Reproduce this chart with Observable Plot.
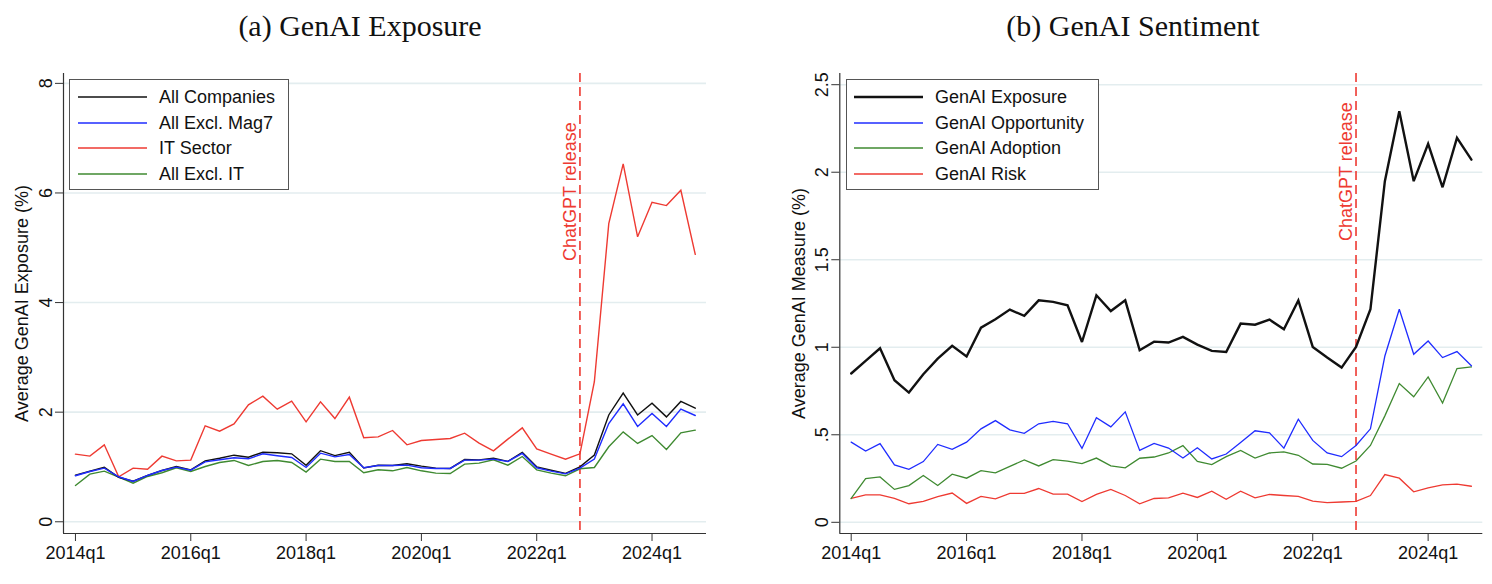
<!DOCTYPE html>
<html>
<head>
<meta charset="utf-8">
<script src="https://cdn.jsdelivr.net/npm/d3@7"></script>
<script src="https://cdn.jsdelivr.net/npm/@observablehq/plot@0.6"></script>
<style>
  html, body { margin: 0; padding: 0; background: #fff; }
  #root { position: relative; width: 1492px; height: 584px; overflow: hidden; font-family: "Liberation Sans", Arial, sans-serif; }
  .title { position: absolute; top: 9px; font-family: "Liberation Serif", "Times New Roman", serif; font-size: 30px; color: #111; white-space: nowrap; transform: translateX(-50%); }
  .panel { position: absolute; top: 50px; }
  .legend { position: absolute; border: 1.5px solid #555; background: #fff; box-sizing: border-box; }
  .legend .row { position: absolute; left: 0; height: 0; }
  .legend .row svg { position: absolute; top: -2px; }
  .legend .row span { position: absolute; top: -11px; font-size: 18px; line-height: 22px; color: #111; white-space: nowrap; }
</style>
</head>
<body>
<div id="root"></div>
<script>
// ---------- data ----------
const years = [2014, 2015, 2016, 2017, 2018, 2019, 2020, 2021, 2022, 2023, 2024];
const quarterLabels = years.flatMap(y => [1, 2, 3, 4].map(q => `${y}q${q}`)); // 2014q1 .. 2024q4
const tickIdx = [0, 8, 16, 24, 32, 40];
const tickLabels = ["2014q1", "2016q1", "2018q1", "2020q1", "2022q1", "2024q1"];
const chatgptIdx = 35; // 2022q4
const chatgptLabel = "ChatGPT release";

// Panel (a) GenAI Exposure
const allCompanies = [0.850, 0.922, 0.994, 0.812, 0.741, 0.846, 0.935, 1.008, 0.947, 1.112, 1.160, 1.215, 1.179, 1.268, 1.259, 1.240, 1.030, 1.297, 1.207, 1.268, 0.983, 1.032, 1.027, 1.059, 1.015, 0.979, 0.973, 1.135, 1.129, 1.158, 1.103, 1.268, 1.002, 0.941, 0.884, 1.002, 1.217, 1.949, 2.348, 1.949, 2.162, 1.914, 2.196, 2.072];
const allExclMag7 = [0.839, 0.918, 0.979, 0.821, 0.736, 0.845, 0.936, 0.997, 0.942, 1.094, 1.131, 1.167, 1.149, 1.240, 1.204, 1.173, 0.991, 1.252, 1.185, 1.228, 0.985, 1.027, 1.027, 1.033, 0.985, 0.973, 0.973, 1.125, 1.125, 1.143, 1.100, 1.246, 0.985, 0.924, 0.875, 0.979, 1.143, 1.793, 2.152, 1.739, 1.976, 1.739, 2.055, 1.939];
const itSector = [1.234, 1.198, 1.404, 0.821, 0.979, 0.960, 1.198, 1.112, 1.125, 1.751, 1.653, 1.787, 2.134, 2.292, 2.055, 2.201, 1.824, 2.188, 1.884, 2.274, 1.532, 1.550, 1.666, 1.404, 1.483, 1.502, 1.520, 1.617, 1.435, 1.295, 1.508, 1.714, 1.331, 1.234, 1.143, 1.240, 2.555, 5.44, 6.53, 5.20, 5.83, 5.77, 6.05, 4.88];
const allExclIT = [0.663, 0.869, 0.924, 0.815, 0.705, 0.827, 0.894, 0.985, 0.918, 1.009, 1.082, 1.119, 1.027, 1.100, 1.119, 1.082, 0.906, 1.143, 1.100, 1.100, 0.894, 0.948, 0.930, 0.991, 0.930, 0.888, 0.881, 1.052, 1.070, 1.131, 1.033, 1.191, 0.948, 0.888, 0.839, 0.967, 0.991, 1.368, 1.641, 1.429, 1.574, 1.319, 1.623, 1.672];

// Panel (b) GenAI Sentiment
const genaiExposure = allCompanies;
const genaiOpportunity = [0.458, 0.407, 0.449, 0.328, 0.303, 0.347, 0.445, 0.417, 0.458, 0.534, 0.581, 0.528, 0.508, 0.563, 0.576, 0.563, 0.422, 0.598, 0.545, 0.631, 0.411, 0.451, 0.424, 0.367, 0.426, 0.362, 0.390, 0.456, 0.523, 0.511, 0.424, 0.589, 0.468, 0.396, 0.375, 0.439, 0.534, 0.950, 1.217, 0.960, 1.036, 0.941, 0.975, 0.894];
const genaiAdoption = [0.136, 0.250, 0.259, 0.188, 0.210, 0.267, 0.210, 0.275, 0.252, 0.295, 0.282, 0.320, 0.356, 0.322, 0.358, 0.350, 0.335, 0.367, 0.322, 0.311, 0.366, 0.373, 0.396, 0.438, 0.348, 0.330, 0.375, 0.411, 0.367, 0.396, 0.402, 0.383, 0.333, 0.331, 0.309, 0.350, 0.439, 0.608, 0.793, 0.717, 0.831, 0.681, 0.878, 0.888];
const genaiRisk = [0.136, 0.157, 0.157, 0.136, 0.106, 0.119, 0.146, 0.167, 0.108, 0.148, 0.134, 0.165, 0.165, 0.193, 0.161, 0.161, 0.119, 0.159, 0.188, 0.153, 0.106, 0.136, 0.140, 0.167, 0.142, 0.178, 0.131, 0.178, 0.140, 0.159, 0.153, 0.148, 0.121, 0.112, 0.116, 0.119, 0.153, 0.273, 0.252, 0.174, 0.197, 0.214, 0.218, 0.206];

const leftYTicks = [0, 2, 4, 6, 8];
const rightYTicks = [0, 0.5, 1, 1.5, 2, 2.5];
const rightYTickLabels = ["0", ".5", "1", "1.5", "2", "2.5"];

const BLACK = "#111111", BLUE = "#1f2cff", RED = "#ee3a32", GREEN = "#3f8a31";

const leftSeries = [
  { name: "All Companies", values: allCompanies, color: BLACK, width: 1.4 },
  { name: "All Excl. Mag7", values: allExclMag7, color: BLUE, width: 1.4 },
  { name: "IT Sector", values: itSector, color: RED, width: 1.4 },
  { name: "All Excl. IT", values: allExclIT, color: GREEN, width: 1.4 }
];
const rightSeries = [
  { name: "GenAI Exposure", values: genaiExposure, color: BLACK, width: 2.4 },
  { name: "GenAI Opportunity", values: genaiOpportunity, color: BLUE, width: 1.3 },
  { name: "GenAI Adoption", values: genaiAdoption, color: GREEN, width: 1.3 },
  { name: "GenAI Risk", values: genaiRisk, color: RED, width: 1.3 }
];

function rowsOf(series) {
  return series.values.map((v, i) => ({ q: i, label: quarterLabels[i], v, s: series.name }));
}

function panel({ width, marginLeft, marginRight, xDomain, yDomain, yTicks, yTickFormat, series, yLabel, chatY, drawOrder }) {
  const marks = [
    Plot.gridY(yTicks, { stroke: "#e3edef", strokeOpacity: 1, strokeWidth: 1.6 }),
    Plot.ruleX([xDomain[0]], { stroke: "#333", strokeWidth: 1.2 }),
    Plot.ruleY([yDomain[0]], { stroke: "#333", strokeWidth: 1.2 }),
    Plot.axisX(tickIdx, { tickFormat: d => tickLabels[tickIdx.indexOf(d)], tickSize: 8, tickPadding: 5, stroke: "#333", label: null, fontSize: 18 }),
    Plot.axisY(yTicks, { tickFormat: yTickFormat, tickSize: 8, tickPadding: 4, tickRotate: -90, stroke: "#333", label: null, fontSize: 18 }),
    Plot.ruleX([chatgptIdx], { stroke: RED, strokeWidth: 1.6, strokeDasharray: "9,5" }),
    Plot.text([chatgptLabel], { x: chatgptIdx, y: chatY, rotate: -90, textAnchor: "end", lineAnchor: "bottom", dx: -4, fill: RED, fontSize: 18 }),
    Plot.text([yLabel], { frameAnchor: "left", rotate: -90, textAnchor: "middle", lineAnchor: "middle", dx: -41, fill: "#111", fontSize: 18 })
  ];
  for (const s of drawOrder.map(i => series[i])) {
    marks.push(Plot.line(rowsOf(s), { x: "q", y: "v", stroke: s.color, strokeWidth: s.width, strokeLinejoin: "miter", strokeMiterlimit: 3 }));
  }
  return Plot.plot({
    width, height: 534,
    marginLeft, marginRight, marginTop: 23, marginBottom: 51,
    style: { fontFamily: "'Liberation Sans', Arial, sans-serif", fontSize: "18px", color: "#111", background: "transparent", overflow: "visible" },
    x: { type: "linear", domain: xDomain },
    y: { type: "linear", domain: yDomain },
    marks
  });
}

function legend(series, { left, top, width, lineX0, lineX1, textX, rowYs }) {
  const box = document.createElement("div");
  box.className = "legend";
  Object.assign(box.style, { left: left + "px", top: top + "px", width: width + "px", height: "111px" });
  series.forEach((s, i) => {
    const row = document.createElement("div");
    row.className = "row";
    row.style.top = (rowYs[i] - top) + "px";
    const svg = document.createElementNS("http://www.w3.org/2000/svg", "svg");
    svg.setAttribute("width", lineX1 - lineX0);
    svg.setAttribute("height", 4);
    svg.style.left = (lineX0 - left) + "px";
    const ln = document.createElementNS("http://www.w3.org/2000/svg", "line");
    ln.setAttribute("x1", 0); ln.setAttribute("x2", lineX1 - lineX0);
    ln.setAttribute("y1", 2); ln.setAttribute("y2", 2);
    ln.setAttribute("stroke", s.color); ln.setAttribute("stroke-width", s.width);
    svg.appendChild(ln);
    const sp = document.createElement("span");
    sp.textContent = s.name;
    sp.style.left = (textX - left) + "px";
    row.appendChild(svg); row.appendChild(sp);
    box.appendChild(row);
  });
  return box;
}

const root = document.getElementById("root");

function addTitle(text, cx) {
  const t = document.createElement("div");
  t.className = "title";
  t.textContent = text;
  t.style.left = cx + "px";
  root.appendChild(t);
}
addTitle("(a) GenAI Exposure", 360);
addTitle("(b) GenAI Sentiment", 1133);

const leftPlot = panel({
  width: 740, marginLeft: 63, marginRight: 34,
  xDomain: [-0.83, 43.78], yDomain: [-0.214, 8.18],
  yTicks: leftYTicks, yTickFormat: d => String(d),
  series: leftSeries, yLabel: "Average GenAI Exposure (%)", chatY: 7.29,
  drawOrder: [3, 2, 0, 1]
});
const lp = document.createElement("div");
lp.className = "panel"; lp.style.left = "0px";
lp.appendChild(leftPlot);
root.appendChild(lp);

const rightPlot = panel({
  width: 752, marginLeft: 99.3, marginRight: 9.7,
  xDomain: [-0.79, 43.79], yDomain: [-0.064, 2.564],
  yTicks: rightYTicks, yTickFormat: d => rightYTickLabels[rightYTicks.indexOf(d)],
  series: rightSeries, yLabel: "Average GenAI Measure (%)", chatY: 2.40,
  drawOrder: [3, 2, 1, 0]
});
const rp = document.createElement("div");
rp.className = "panel"; rp.style.left = "740px";
rp.appendChild(rightPlot);
root.appendChild(rp);

root.appendChild(legend(leftSeries, { left: 69, top: 79, width: 220, lineX0: 77, lineX1: 146, textX: 158, rowYs: [96, 121.5, 147.3, 173] }));
root.appendChild(legend(rightSeries, { left: 846, top: 79, width: 253, lineX0: 853, lineX1: 922, textX: 934, rowYs: [96, 121.5, 147.3, 173] }));
</script>
</body>
</html>
